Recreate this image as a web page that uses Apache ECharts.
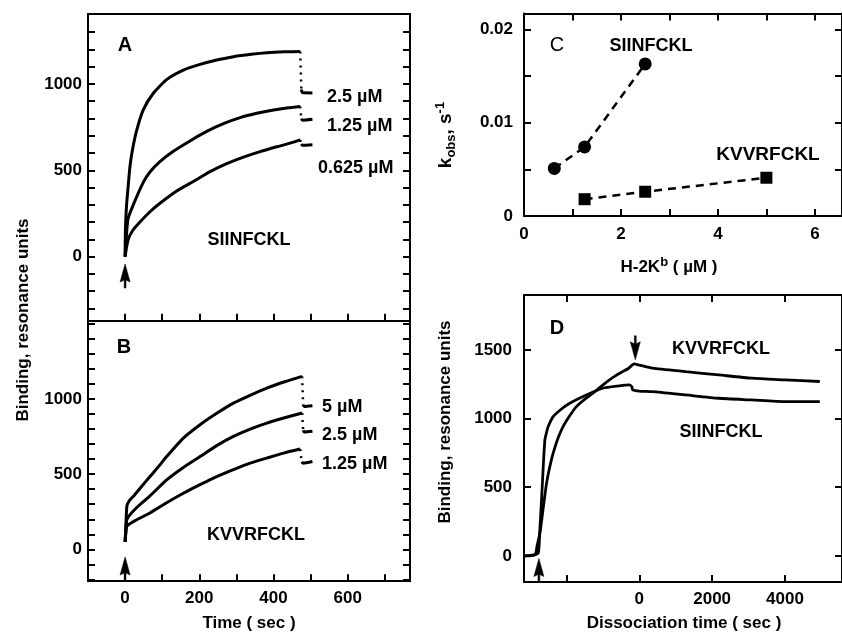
<!DOCTYPE html>
<html><head><meta charset="utf-8">
<script src="https://cdn.jsdelivr.net/npm/echarts@6/dist/echarts.min.js"></script>
<style>html,body{margin:0;padding:0;background:#fff}#c{width:842px;height:634px}</style>
</head><body><div id="c"></div>
<script>
// ---------- Panel A (SIINFCKL association, [time s, RU]) ----------
const a25Assoc = [[0,0],[1,170],[4,300],[8,400],[13,520],[20,620],[31,730],[49,850],[76,946],[112,1025],[157,1080],[202,1113],[250,1140],[292,1158],[340,1172],[382,1181],[430,1186],[472,1188]];
const a25Tail  = [[475,968],[478,950],[505,948]];
const a125Assoc = [[0,0],[4,135],[8,220],[22,300],[49,430],[67,490],[94,550],[130,610],[175,670],[220,725],[265,770],[310,805],[355,830],[400,849],[440,862],[472,870]];
const a125Tail  = [[475,798],[478,790],[505,795]];
const a0625Assoc = [[0,0],[8,97],[20,150],[40,200],[67,260],[94,309],[139,380],[184,435],[229,492],[274,538],[319,576],[364,608],[409,636],[445,657],[472,676]];
const a0625Tail  = [[475,652],[478,645],[505,648]];
// ---------- Panel B (KVVRFCKL association) ----------
const b5Assoc = [[0,50],[2,150],[5,290],[12,325],[25,360],[45,420],[67,484],[90,550],[112,617],[157,740],[202,829],[247,905],[292,973],[337,1025],[382,1073],[430,1115],[477,1151]];
const b5Tail  = [[480,962],[483,950],[505,955]];
const b25Assoc = [[0,50],[2,120],[5,200],[30,275],[67,355],[112,462],[157,545],[202,617],[247,690],[292,751],[337,800],[382,840],[430,875],[477,907]];
const b25Tail  = [[480,792],[483,780],[505,785]];
const b125Assoc = [[0,50],[2,110],[5,155],[30,195],[67,242],[112,310],[157,373],[202,430],[247,484],[292,530],[337,573],[382,607],[427,640],[472,667]];
const b125Tail  = [[476,582],[480,573],[505,584]];
// ---------- Panel C (kobs vs H-2Kb) ----------
const cSiiX = [0.625, 1.25, 2.5];
const cSiiY = [0.0051, 0.0074, 0.0163];
const cKvvX = [1.25, 2.5, 5];
const cKvvY = [0.0018, 0.0026, 0.0041];
// ---------- Panel D (association + dissociation) ----------
const dSii = [[-3150,0],[-2910,7],[-2773,20],[-2727,200],[-2682,408],[-2636,650],[-2591,845],[-2545,900],[-2500,942],[-2364,1014],[-2136,1070],[-1909,1112],[-1454,1172],[-1000,1221],[-545,1238],[-273,1245],[-200,1230],[-182,1209],[0,1200],[364,1196],[1273,1172],[2182,1148],[3091,1136],[4000,1124],[4955,1124]];
const dKvv = [[-3150,0],[-2864,7],[-2800,80],[-2727,165],[-2636,350],[-2545,529],[-2455,650],[-2364,748],[-2227,860],[-2091,942],[-1909,1020],[-1727,1087],[-1500,1140],[-1273,1185],[-1045,1235],[-818,1282],[-636,1315],[-455,1342],[-300,1365],[-136,1398],[0,1390],[364,1367],[1273,1342],[2182,1318],[3091,1294],[4000,1282],[4955,1270]];
// ---------- Annotation arrows (data coords) ----------
const arrowsA = [[0,-112]];
const arrowsB = [[0,-131]];
const arrowsDUp = [[-2755,-106]];
const arrowsDDown = [[-109,1515]];
// ---------- Tick/label values ----------
const tA_x = [0,100,200,300,400,500,600,700];
const lB_x = [0,200,400,600];
const tA_y = [-300,-200,-100,0,100,200,300,400,500,600,700,800,900,1000,1100,1200,1300];
const lAB_y = [0,500,1000];
const tB_y = [-200,-100,0,100,200,300,400,500,600,700,800,900,1000,1100,1200,1300,1400,1500];
const tC_x = [1,2,3,4,5,6];
const lC_x = [0,2,4,6];
const tC_y = [0.005,0.01,0.015,0.02];
const lC_y = [0,0.01,0.02];
const tD_x = [-2000,0,2000,4000];
const lD_x = [0,2000,4000];
const tD_y = [0,500,1000,1500];

const FONT = "'Liberation Sans', Arial, Helvetica, sans-serif";
const BLK = '#000';
const chart = echarts.init(document.getElementById('c'), null, {renderer:'canvas'});

function axis(kind, grid, pos, min, max, ticks, labels, margin, fmt) {
  return {
    type:'value', gridIndex:grid, position:pos, min:min, max:max,
    axisLine:{show:true, onZero:false, lineStyle:{color:BLK, width:2}},
    axisTick:{show:!!ticks, inside:true, length:7, lineStyle:{color:BLK, width:2}, customValues: ticks || undefined},
    axisLabel:{show:!!labels, customValues: labels || undefined, margin:margin||8, color:BLK,
      fontFamily:FONT, fontSize:17, fontWeight:'bold', formatter: fmt || (v => String(v))},
    splitLine:{show:false}, splitArea:{show:false}
  };
}
const xAxes = [
  axis('x',0,'bottom',-100,768,tA_x,null),
  axis('x',0,'top',-100,768,null,null),
  axis('x',1,'bottom',-100,768,tA_x,lB_x,9),
  axis('x',1,'top',-100,768,null,null),
  axis('x',2,'bottom',0,6.56,tC_x,lC_x,10),
  axis('x',2,'top',0,6.56,tC_x,null),
  axis('x',3,'bottom',-3164,5564,tD_x,lD_x,9),
  axis('x',3,'top',-3164,5564,tD_x,null)
];
const yAxes = [
  axis('y',0,'left',-371,1405,tA_y,lAB_y,6),
  axis('y',0,'right',-371,1405,tA_y,null),
  axis('y',1,'left',-212,1521,tB_y,lAB_y,6),
  axis('y',1,'right',-212,1521,tB_y,null),
  axis('y',2,'left',0,0.0217,tC_y,lC_y,11, v => v===0 ? '0' : v.toFixed(2)),
  axis('y',2,'right',0,0.0217,tC_y,null),
  axis('y',3,'left',-190,1900,tD_y,tD_y,12),
  axis('y',3,'right',-190,1900,tD_y,null)
];

function solid(data, xi, yi, w) {
  return {type:'line', data:data, xAxisIndex:xi, yAxisIndex:yi, showSymbol:false, symbol:'none',
    smooth:0.2,
    lineStyle:{color:BLK, width:w||3}, silent:true, animation:false, z:3};
}
function dotted(from, to, xi, yi) {
  return {type:'line', data:[from[from.length-1], to[0]], xAxisIndex:xi, yAxisIndex:yi, symbol:'none',
    lineStyle:{color:BLK, width:2.5, type:[2,5]}, silent:true, animation:false, z:3};
}
function zip(xs, ys) { return xs.map((x,i)=>[x, ys[i]]); }
const ARROW = 'path://M5,0 L10,18 L5.9,16 L5.9,24 L4.1,24 L4.1,16 L0,18 Z';
function arrows(data, xi, yi, rot) {
  return {type:'scatter', data:data, xAxisIndex:xi, yAxisIndex:yi, symbol:ARROW, symbolSize:[10,24],
    symbolRotate:rot||0, itemStyle:{color:BLK, opacity:1, borderColor:BLK, borderWidth:0.5},
    silent:true, animation:false, z:4};
}

const series = [];
[[a25Assoc,a25Tail],[a125Assoc,a125Tail],[a0625Assoc,a0625Tail]].forEach(([as,tl]) => {
  series.push(solid(as,0,0), dotted(as,tl,0,0), solid(tl,0,0));
});
[[b5Assoc,b5Tail],[b25Assoc,b25Tail],[b125Assoc,b125Tail]].forEach(([as,tl]) => {
  series.push(solid(as,2,2), dotted(as,tl,2,2), solid(tl,2,2));
});
series.push({type:'line', data:zip(cSiiX,cSiiY), xAxisIndex:4, yAxisIndex:4, symbol:'circle', symbolSize:13,
  itemStyle:{color:BLK, opacity:1}, lineStyle:{color:BLK, width:2.5, type:[8,6]}, silent:true, animation:false});
series.push({type:'line', data:zip(cKvvX,cKvvY), xAxisIndex:4, yAxisIndex:4, symbol:'rect', symbolSize:12,
  itemStyle:{color:BLK, opacity:1}, lineStyle:{color:BLK, width:2.5, type:[8,6]}, silent:true, animation:false});
series.push(solid(dSii,6,6,2.8), solid(dKvv,6,6,2.8));
series.push(arrows(arrowsA,0,0), arrows(arrowsB,2,2), arrows(arrowsDUp,6,6), arrows(arrowsDDown,6,6,180));

function txt(t, x, y, opt) {
  opt = opt || {};
  return {type:'text', x:x, y:y, rotation:opt.rot||0, silent:true, z:10,
    style:{text:t, fill:BLK, fontFamily:opt.family||FONT, fontSize:opt.size||18, fontWeight:opt.weight||'bold',
      align:opt.align||'left', textAlign:opt.align||'left', verticalAlign:'middle', textVerticalAlign:'middle',
      rich:opt.rich}};
}
const NARROW = "'Liberation Sans Narrow', 'Liberation Sans', Arial, sans-serif";
const graphics = [
  txt('A',125,45,{align:'center',size:20}),
  txt('2.5 µM',327,97), txt('1.25 µM',327,126), txt('0.625 µM',318,168),
  txt('SIINFCKL',249,240,{align:'center'}),
  txt('B',124,347,{align:'center',size:20}),
  txt('5 µM',322,407), txt('2.5 µM',322,435), txt('1.25 µM',322,464),
  txt('KVVRFCKL',256,535,{align:'center'}),
  txt('C',557,45,{align:'center',size:20,weight:'normal'}),
  txt('SIINFCKL',651,46,{align:'center',family:NARROW,size:18}),
  txt('KVVRFCKL',768,155,{align:'center',family:NARROW,size:19}),
  txt('D',557,328,{align:'center',size:20}),
  txt('KVVRFCKL',721,349,{align:'center'}),
  txt('SIINFCKL',721,432,{align:'center'}),
  txt('Time ( sec )',249,623,{align:'center',size:17}),
  txt('Dissociation time ( sec )',684,623,{align:'center',size:17}),
  txt('Binding, resonance units',23,320,{align:'center',size:17,rot:Math.PI/2}),
  txt('Binding, resonance units',445,422,{align:'center',size:17,rot:Math.PI/2}),
  txt('{k|k}{s|obs}{k|, s}{p|-1}',446,135,{align:'center',rot:Math.PI/2,rich:{
    k:{fontSize:19,fontWeight:'bold',fontFamily:FONT,fill:BLK},
    s:{fontSize:13,fontWeight:'bold',fontFamily:FONT,fill:BLK,padding:[11,0,0,0]},
    p:{fontSize:13,fontWeight:'bold',fontFamily:FONT,fill:BLK,padding:[0,0,11,0]}}}),
  txt('{k|H-2K}{p|b}{k| ( µM )}',669,267,{align:'center',rich:{
    k:{fontSize:17,fontWeight:'bold',fontFamily:FONT,fill:BLK},
    p:{fontSize:13,fontWeight:'bold',fontFamily:FONT,fill:BLK,padding:[0,0,10,0]}}})
];

chart.setOption({
  animation:false,
  backgroundColor:'#fff',
  grid:[
    {left:88, top:14, width:322, height:306.7},
    {left:88, top:320.7, width:322, height:260.5},
    {left:524, top:13.5, width:320, height:202.5},
    {left:524, top:295, width:320, height:287}
  ],
  xAxis:xAxes, yAxis:yAxes, series:series, graphic:graphics
});
</script></body></html>
